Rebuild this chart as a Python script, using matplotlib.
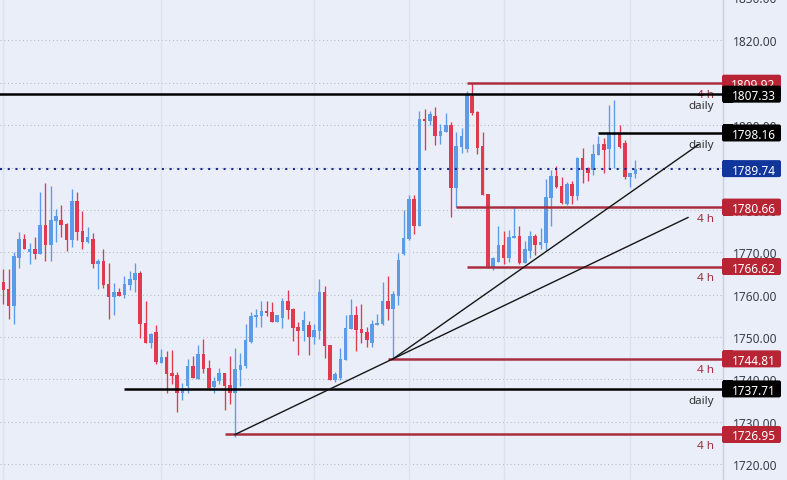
"""
Candlestick chart with support / resistance levels and two trend lines
"""

import matplotlib
matplotlib.use('Agg')
import matplotlib.pyplot as plt
from matplotlib.patches import FancyBboxPatch, Rectangle
from matplotlib.transforms import IdentityTransform, blended_transform_factory

# candle data
opens = [1762.9, 1761.3, 1757.2, 1768.7, 1773.2, 1770.0, 1770.8, 1769.6, 1776.5, 1771.7,
         1777.4, 1777.6, 1776.7, 1772.9, 1782.1, 1775.0, 1772.4, 1773.2, 1767.2, 1768.0,
         1762.5, 1759.5, 1760.6, 1759.9, 1762.3, 1763.5, 1765.1, 1753.3, 1748.6, 1751.2,
         1743.9, 1745.3, 1741.5, 1741.0, 1736.8, 1738.4, 1743.2, 1740.1, 1746.0, 1742.7,
         1738.2, 1739.6, 1741.5, 1738.7, 1736.8, 1742.2, 1743.1, 1748.7, 1754.7, 1754.9,
         1756.0, 1755.9, 1753.5, 1754.5, 1758.5, 1756.6, 1752.3, 1751.4, 1752.8, 1750.0,
         1751.4, 1760.6, 1748.1, 1739.8, 1740.3, 1744.6, 1751.9, 1755.2, 1751.9, 1751.2,
         1748.6, 1752.8, 1753.0, 1758.5, 1756.6, 1759.7, 1769.6, 1773.1, 1782.6, 1776.2,
         1801.5, 1801.0, 1802.2, 1797.4, 1798.4, 1800.0, 1785.2, 1794.8, 1794.4, 1807.0,
         1803.2, 1795.1, 1783.8, 1766.3, 1767.7, 1771.7, 1768.7, 1773.4, 1773.9, 1767.5,
         1770.3, 1773.9, 1771.7, 1772.2, 1782.8, 1788.0, 1785.7, 1781.4, 1786.1, 1783.3,
         1792.3, 1789.9, 1789.5, 1793.0, 1795.6, 1794.4, 1797.7, 1798.2, 1795.8, 1787.8,
         1788.5]
highs = [1766.1, 1766.1, 1770.0, 1774.7, 1774.3, 1772.2, 1773.5, 1784.3, 1786.4, 1785.7,
         1780.2, 1781.2, 1776.9, 1785.0, 1784.2, 1779.8, 1776.0, 1774.6, 1768.4, 1770.8,
         1767.5, 1762.8, 1761.6, 1764.4, 1765.6, 1767.5, 1765.6, 1758.5, 1751.0, 1752.8,
         1747.2, 1746.7, 1746.9, 1741.7, 1739.2, 1744.8, 1745.5, 1748.1, 1749.5, 1744.6,
         1740.6, 1742.7, 1741.5, 1745.5, 1747.4, 1746.2, 1753.1, 1755.8, 1756.6, 1758.5,
         1758.5, 1758.2, 1755.2, 1759.1, 1761.1, 1756.8, 1753.5, 1756.1, 1753.7, 1753.1,
         1763.7, 1762.0, 1748.1, 1741.7, 1747.4, 1755.2, 1759.0, 1757.2, 1757.8, 1752.3,
         1754.0, 1755.4, 1763.0, 1764.4, 1760.8, 1769.8, 1780.0, 1783.5, 1783.5, 1803.3,
         1803.8, 1803.3, 1804.3, 1800.3, 1802.9, 1800.7, 1798.4, 1799.3, 1808.1, 1809.9,
         1803.4, 1798.4, 1783.8, 1768.9, 1776.2, 1775.1, 1775.3, 1781.0, 1776.2, 1772.7,
         1775.1, 1774.3, 1775.8, 1787.3, 1789.5, 1790.4, 1787.8, 1786.6, 1786.8, 1792.5,
         1794.6, 1790.2, 1795.6, 1797.5, 1797.0, 1804.8, 1806.0, 1800.1, 1796.5, 1788.7,
         1791.8]
lows = [1757.8, 1754.3, 1753.1, 1766.3, 1770.8, 1767.1, 1768.4, 1769.6, 1768.0, 1768.0,
        1772.4, 1773.6, 1770.3, 1771.3, 1772.9, 1770.8, 1772.2, 1766.3, 1761.3, 1761.6,
        1754.3, 1755.2, 1759.7, 1759.2, 1761.1, 1760.6, 1749.8, 1748.6, 1747.4, 1743.6,
        1743.9, 1736.8, 1738.9, 1732.2, 1735.1, 1736.8, 1740.3, 1740.1, 1741.5, 1737.5,
        1736.8, 1738.9, 1732.8, 1734.2, 1726.3, 1738.5, 1742.7, 1748.6, 1752.3, 1752.3,
        1754.9, 1753.5, 1753.5, 1752.1, 1754.2, 1749.0, 1745.7, 1749.0, 1745.7, 1748.3,
        1749.5, 1745.0, 1739.8, 1739.4, 1739.8, 1744.6, 1751.9, 1746.7, 1748.6, 1747.6,
        1747.6, 1752.8, 1752.8, 1754.0, 1744.8, 1757.5, 1769.3, 1772.9, 1774.3, 1776.2,
        1794.1, 1800.0, 1795.3, 1795.6, 1798.4, 1778.3, 1780.7, 1793.4, 1793.7, 1802.4,
        1793.2, 1783.6, 1766.3, 1765.8, 1767.7, 1767.3, 1767.7, 1773.4, 1767.3, 1767.5,
        1768.7, 1769.4, 1770.8, 1770.6, 1776.2, 1785.2, 1781.4, 1781.2, 1781.4, 1782.4,
        1786.4, 1786.9, 1788.3, 1793.0, 1788.7, 1789.9, 1789.9, 1794.6, 1787.3, 1785.4,
        1787.6]
closes = [1761.1, 1757.2, 1769.0, 1773.2, 1770.8, 1770.8, 1769.6, 1776.5, 1771.7, 1777.6,
          1778.6, 1776.5, 1772.9, 1782.1, 1774.8, 1772.4, 1773.6, 1767.2, 1768.0, 1762.3,
          1759.5, 1760.6, 1759.7, 1762.5, 1763.7, 1765.1, 1753.1, 1748.6, 1750.7, 1744.1,
          1745.3, 1741.3, 1740.7, 1736.8, 1737.5, 1743.2, 1740.3, 1746.0, 1742.5, 1738.0,
          1739.6, 1741.5, 1738.4, 1736.8, 1742.5, 1743.4, 1749.3, 1754.9, 1755.2, 1756.1,
          1755.6, 1753.5, 1755.2, 1758.5, 1756.4, 1752.1, 1751.4, 1754.0, 1750.0, 1751.6,
          1760.6, 1747.9, 1739.8, 1741.3, 1744.8, 1752.1, 1755.2, 1751.6, 1750.9, 1749.3,
          1753.1, 1753.3, 1758.5, 1756.6, 1760.1, 1768.2, 1773.4, 1782.6, 1776.2, 1801.5,
          1801.0, 1802.6, 1797.4, 1798.6, 1800.0, 1785.2, 1795.1, 1797.4, 1807.1, 1802.9,
          1794.6, 1783.6, 1766.3, 1768.7, 1771.7, 1768.7, 1773.6, 1773.9, 1767.5, 1770.8,
          1773.9, 1771.7, 1772.5, 1783.1, 1788.0, 1785.4, 1781.7, 1786.1, 1783.3, 1792.3,
          1789.5, 1788.7, 1793.2, 1795.6, 1794.2, 1798.2, 1798.2, 1794.9, 1787.8, 1788.7,
          1789.7]

# horizontal levels: price, first candle, kind
level_prices = [1809.92, 1807.33, 1798.16, 1780.66, 1766.62, 1744.81, 1737.71, 1726.95]
level_starts = [88, -1, 113, 86, 88, 73, 23, 42]
level_kinds = ['4 h', 'daily', 'daily', '4 h', '4 h', '4 h', 'daily', '4 h']

# trend lines: candle index and price at both ends
trend_x = [[44, 130], [74, 132]]
trend_y = [[1726.95, 1778.2], [1744.81, 1795.4]]

last_price = 1789.74
tick_values = [1720, 1730, 1740, 1750, 1760, 1770, 1780, 1790, 1800, 1810, 1820]
time_grid = [0, 30, 59, 77, 95, 119]

BG = '#e9eef9'
UP = '#5b9be8'
DOWN = '#e03a50'
LEVEL_RED = '#a92f3f'
TAG_RED = '#b72433'
TAG_BLUE = '#10369c'
FONT = ['Noto Sans', 'DejaVu Sans']

W, H = 787, 481
fig = plt.figure(figsize=(W / 100, H / 100), dpi=100, facecolor=BG)
ax = fig.add_axes([0, 0, 722.5 / W, 1], facecolor=BG)
ax.set_xlim(-0.63, 136.55)
ax.set_ylim(1716.2, 1829.8)

for side in ['top', 'left', 'bottom']:
    ax.spines[side].set_visible(False)
ax.spines['right'].set_color('#c9cfdd')
ax.spines['right'].set_linewidth(1)

# grid
for value in tick_values:
    ax.axhline(value, color='#b4b9c6', lw=0.75, ls=(0, (1, 2.6)), zorder=1)
for idx in time_grid:
    ax.axvline(idx, color='#dce1ee', lw=1, zorder=1)

# candles
for i, (o, h, l, c) in enumerate(zip(opens, highs, lows, closes)):
    color = UP if c >= o else DOWN
    ax.plot([i, i], [l, h], color=color, lw=0.95, zorder=3, solid_capstyle='butt')
    ax.bar(i, abs(c - o), bottom=min(o, c), width=0.68, color=color, linewidth=0, zorder=4)

# last price line
ax.axhline(last_price, color='#1b2c8a', lw=1.5, ls=(0, (1, 2.7)), zorder=5)

# levels
for price, start, kind in zip(level_prices, level_starts, level_kinds):
    color = 'black' if kind == 'daily' else LEVEL_RED
    ax.plot([start, ax.get_xlim()[1]], [price, price], color=color, lw=1.8, zorder=6,
            solid_capstyle='butt')
    text_color = '#333333' if kind == 'daily' else LEVEL_RED
    weight = 'normal' if kind == 'daily' else 'bold'
    ax.annotate(kind, xy=(1, price), xycoords=ax.get_yaxis_transform(), xytext=(-6, -8.0),
                textcoords='offset points', ha='right', va='center', fontsize=8.4,
                color=text_color, family=FONT, fontweight=weight, zorder=5.5)

# trend lines
for xs, ys in zip(trend_x, trend_y):
    ax.plot(xs, ys, color='#161616', lw=1.0, zorder=7)

# price axis
ax.set_xticks([])
ax.yaxis.tick_right()
ax.set_yticks(tick_values)
ax.set_yticklabels([f'{v:.2f}' for v in tick_values], family=FONT, fontsize=8.6, color='#3a3f4a')
ax.tick_params(axis='y', length=0, pad=7.6)
ax.text(1 + 7.6 / 72 * 100 / 722.5, 1830, '1830.00',
        transform=blended_transform_factory(ax.transAxes, ax.transData),
        ha='left', va='center', fontsize=8.6, color='#3a3f4a', family=FONT, clip_on=False)


def price_tag(price, color, z):
    """Price tag on the axis, square on the left and rounded on the right"""
    y = ax.transData.transform((0, price))[1]
    h = 17
    fig.add_artist(FancyBboxPatch((724, y - h / 2 + 2), 55, h - 4, boxstyle='round,pad=2',
                                  fc=color, ec='none', transform=IdentityTransform(), zorder=z))
    fig.add_artist(Rectangle((722.5, y - h / 2), 10, h, fc=color, ec='none',
                             transform=IdentityTransform(), zorder=z))
    fig.text(753.5 / W, y / H, f'{price:.2f}', color='white', fontsize=8.5, fontweight='bold',
             ha='center', va='center_baseline', family=FONT, zorder=z + 0.5)


n = 0
for price, kind in zip(level_prices, level_kinds):
    n += 1
    price_tag(price, 'black' if kind == 'daily' else TAG_RED, 10 + n)
price_tag(last_price, TAG_BLUE, 30)

fig.savefig('out.png', dpi=100, facecolor=BG)
